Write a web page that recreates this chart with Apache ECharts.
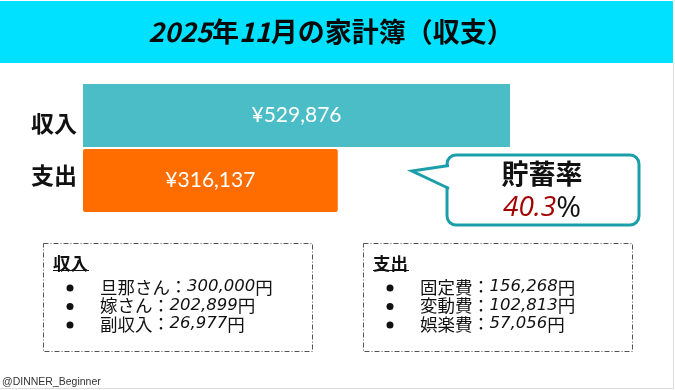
<!DOCTYPE html>
<html><head><meta charset="utf-8">
<script src="https://cdn.jsdelivr.net/npm/echarts@6/dist/echarts.min.js"></script>
<style>html,body{margin:0;padding:0;background:#fff}#c{width:675px;height:390px}</style>
</head><body><div id="c"></div>
<script>
const title = '2025年11月の家計簿（収支）';
const categories = ['収入', '支出'];
const totals = [529876, 316137];
const barColors = ['#4BBDC7', '#FF6D00'];
const incomeItems = ['旦那さん', '嫁さん', '副収入'];
const incomeValues = [300000, 202899, 26977];
const expenseItems = ['固定費', '変動費', '娯楽費'];
const expenseValues = [156268, 102813, 57056];
const savingsLabel = '貯蓄率';
const savingsRate = 40.3;
const credit = '@DINNER_Beginner';

const JP = '"Noto Sans CJK JP", "Noto Sans", sans-serif';
const fmt = v => v.toLocaleString('en-US');

const chart = echarts.init(document.getElementById('c'), null, {renderer: 'canvas'});

function listBox(x, y, heading, names, values) {
  const els = [];
  els.push({type: 'rect', z: 10, shape: {x: x + 0.5, y: y + 0.5, width: 269, height: 108},
    style: {fill: 'none', stroke: '#555', lineWidth: 1, lineDash: [5, 2, 1, 2]}});
  els.push({type: 'text', z: 11, style: {x: x + 10, y: y + 20, text: heading, align: 'left', verticalAlign: 'middle',
    fontFamily: JP, fontSize: 17.5, fontWeight: 'bold', fill: '#111'}});
  els.push({type: 'line', z: 11, shape: {x1: x + 10, y1: y + 27.5, x2: x + 46, y2: y + 27.5},
    style: {stroke: '#111', lineWidth: 1.2}});
  names.forEach((n, i) => {
    const cy = y + 44 + i * 18.5;
    els.push({type: 'circle', z: 11, shape: {cx: x + 27, cy: cy + 1, r: 3.5}, style: {fill: '#111'}});
    els.push({type: 'text', z: 11, style: {x: x + 57, y: cy, align: 'left', verticalAlign: 'middle',
      text: '{n|' + n + '}{c|：}{v|' + fmt(values[i]) + '}{n|円}',
      rich: {
        n: {fontFamily: JP, fontSize: 17.5, fill: '#111'},
        c: {fontFamily: JP, fontSize: 17, fill: '#111', width: 17, align: 'center'},
        v: {fontFamily: '"DejaVu Sans", sans-serif', fontSize: 16.5, fontStyle: 'italic', fill: '#111'}
      }}});
  });
  return els;
}

const titleRich = title.replace(/(\d+)/g, '{d|$1}');

const graphics = [
  {type: 'rect', z: 1, shape: {x: 0, y: 1, width: 673, height: 62}, style: {fill: '#00E1FF'}},
  {type: 'text', z: 2, style: {x: 331, y: 32, align: 'center', verticalAlign: 'middle', text: titleRich,
    fontFamily: JP, fontSize: 27, fontWeight: 'bold', fill: '#0a0a0a',
    rich: {d: {fontFamily: JP, fontSize: 27, fontWeight: 'bold', fontStyle: 'italic', fill: '#0a0a0a'}}}},
  {type: 'line', z: 1, shape: {x1: 673.5, y1: 63, x2: 673.5, y2: 388}, style: {stroke: '#dcdcdc', lineWidth: 1}},
  {type: 'line', z: 1, shape: {x1: 0, y1: 388.5, x2: 674, y2: 388.5}, style: {stroke: '#dcdcdc', lineWidth: 1}},
  // bubble
  {type: 'rect', z: 20, shape: {x: 447, y: 155, width: 192, height: 70, r: 9},
    style: {fill: '#fff', stroke: '#1A9FAA', lineWidth: 3}},
  {type: 'polygon', z: 21, shape: {points: [[412, 171], [453, 165], [453, 189]]}, style: {fill: '#fff'}},
  {type: 'polyline', z: 22, shape: {points: [[449, 165.5], [412, 171], [449, 188.5]]},
    style: {fill: 'none', stroke: '#1A9FAA', lineWidth: 3, lineJoin: 'miter'}},
  {type: 'text', z: 23, style: {x: 542, y: 174, align: 'center', verticalAlign: 'middle', text: savingsLabel,
    fontFamily: JP, fontSize: 27, fontWeight: 'bold', fill: '#111'}},
  {type: 'text', z: 23, style: {x: 542, y: 208, align: 'center', verticalAlign: 'middle',
    text: '{r|' + savingsRate.toFixed(1) + '}{p|%}',
    rich: {
      r: {fontFamily: '"Open Sans", sans-serif', fontSize: 28, fontStyle: 'italic', fill: '#A30000'},
      p: {fontFamily: '"Open Sans", sans-serif', fontSize: 30, fill: '#111'}
    }}},
  {type: 'text', z: 5, style: {x: 2, y: 382, align: 'left', verticalAlign: 'middle', text: credit,
    fontFamily: '"Liberation Sans", Arial, sans-serif', fontSize: 10.5, fill: '#333'}}
].concat(listBox(43, 243, categories[0], incomeItems, incomeValues))
 .concat(listBox(363, 243, categories[1], expenseItems, expenseValues));

const axisMax = 600000;
const gridLeft = 83, gridTop = 83, fullWidth = 427 * axisMax / totals[0];
const labStyle = {fontFamily: JP, fontSize: 23, fontWeight: 'bold', color: '#111'};

chart.setOption({
  animation: false,
  backgroundColor: '#fff',
  grid: {left: gridLeft, top: gridTop, width: fullWidth, height: 130},
  xAxis: {type: 'value', min: 0, max: axisMax, show: false},
  yAxis: {type: 'category', data: categories, inverse: true,
    axisLine: {show: false}, axisTick: {show: false}, splitLine: {show: false},
    axisLabel: {margin: 6, ...labStyle,
      formatter: (v, i) => '{' + (i === 0 ? 'a' : 'b') + '|' + v + '}',
      rich: {
        a: {...labStyle, padding: [16, 0, 0, 0]},
        b: {...labStyle, padding: [0, 0, 10, 0]}
      }}},
  series: [{
    type: 'bar',
    barWidth: 63,
    data: totals.map((v, i) => ({value: v, itemStyle: {color: barColors[i], borderRadius: i === 1 ? 2 : 0}})),
    label: {show: true, position: 'inside', formatter: p => '¥' + fmt(p.value),
      fontFamily: 'Lato, "Noto Sans", sans-serif', fontSize: 21, color: '#fff'}
  }],
  graphic: graphics
});
</script></body></html>
